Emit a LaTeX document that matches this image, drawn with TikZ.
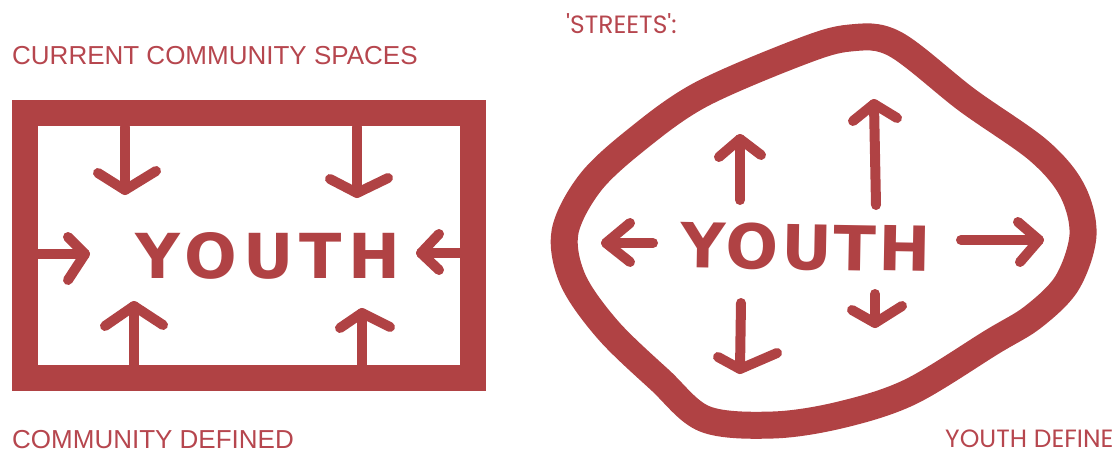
\documentclass[tikz,border=0pt]{standalone}
\usepackage{fontspec}
\setmainfont{Liberation Sans}
\newfontfamily\geofont{Poppins}
\newfontfamily\handfont{DejaVu Sans}
\usetikzlibrary{positioning}

\definecolor{ink}{RGB}{176,66,68}
\definecolor{labelink}{RGB}{182,70,78}

\begin{document}
\begin{tikzpicture}[
  x=1pt,
  y=-1pt,
  pen/.style={draw=ink, line width=10, line cap=round, line join=round},
  wall/.style={draw=ink, line width=26, line join=miter},
  caption/.style={text=labelink, anchor=base west, inner sep=0pt, font=\fontsize{26}{28}\selectfont},
  youthword/.style={text=ink, inner sep=0pt, font=\handfont\bfseries\fontsize{62}{64}\selectfont}
]
\useasboundingbox (0,0) rectangle (1120,455);

% Left: community defined space, everything pushes in
\node[caption] (capCurrent) at (12,64) {CURRENT COMMUNITY SPACES};
\draw[wall] (25,113) rectangle (473,378);
\node[youthword] (youthL) at (268,256) {\addfontfeatures{LetterSpace=10}YOUTH};

% arrows from the top wall
\draw[pen] (125,127) -- (125,190);
\draw[pen] (98,173) -- (125,190) -- (156,171);
\draw[pen] (357,127) -- (357,193);
\draw[pen] (330,179) -- (357,193) -- (388,178);
% arrows from the bottom wall
\draw[pen] (134,365) -- (134,306);
\draw[pen] (105,326) -- (134,306) -- (163,325);
\draw[pen] (362,365) -- (362,313);
\draw[pen] (340,328) -- (362,313) -- (390,327);
% arrows from the side walls
\draw[pen] (38,254) -- (85,254);
\draw[pen] (68,237) -- (85,254) -- (68,280);
\draw[pen] (460,253) -- (421,253);
\draw[pen] (439,234) -- (421,253) -- (439,270);

\node[caption] (capCommunity) at (12,448) {COMMUNITY DEFINED};

% Right: streets, everything pushes out
\node[caption, font=\geofont\fontsize{25}{28}\selectfont] (capStreets) at (566,33) {'STREETS':};
\draw[draw=ink, line width=27, line join=round]
  plot[smooth cycle, tension=0.55] coordinates {
    (850,38) (895,44) (967,100) (1038,150) (1072,190) (1083,235)
    (1067,283) (1033,317) (992,342) (910,392) (840,415) (773,425)
    (705,419) (660,380) (608,330) (573,280) (565,232) (590,183)
    (636,140) (700,95) (800,52)};
\node[youthword, rotate=-1] (youthR) at (806,247) {\addfontfeatures{LetterSpace=4}YOUTH};

% arrows pointing outwards
\draw[pen] (740,200) -- (740,139);
\draw[pen] (719,157) -- (740,139) -- (761,155);
\draw[pen] (876,205) -- (874,104);
\draw[pen] (853,121) -- (874,104) -- (897,118);
\draw[pen] (653,243) -- (606,243);
\draw[pen] (630,223) -- (606,243) -- (630,262);
\draw[pen] (961,240) -- (1039,240);
\draw[pen] (1018,222) -- (1039,240) -- (1020,262);
\draw[pen] (741,303) -- (740,369);
\draw[pen] (718,357) -- (740,369) -- (777,353);
\draw[pen] (875,294) -- (875,323);
\draw[pen] (852,310) -- (875,323) -- (902,306);

\node[caption, font=\geofont\fontsize{25}{28}\selectfont] (capYouth) at (945,447) {YOUTH DEFINE};

\end{tikzpicture}
\end{document}
